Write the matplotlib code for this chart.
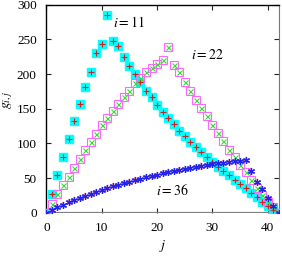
import matplotlib
matplotlib.use("Agg")
import matplotlib.pyplot as plt
import numpy as np

plt.rcParams["mathtext.fontset"] = "stix"
plt.rcParams["font.family"] = ["Liberation Serif", "DejaVu Serif"]

j = np.arange(0, 43)

g11 = [0, 27, 54, 80, 107, 132, 157, 182, 203, 230, 243, 285, 248, 241,
       224, 212, 200, 188, 176, 167, 155, 145, 137, 128, 118, 110, 102, 95,
       87, 80, 73, 66, 60, 54, 47, 41, 35, 28, 22, 15, 9, 4, 0]

g22 = [0, 13, 27, 40, 52, 65, 78, 90, 102, 114, 126, 136, 146, 157, 167,
       176, 187, 194, 203, 209, 214, 220, 239, 213, 203, 188, 176, 163, 151,
       139, 127, 115, 103, 91, 80, 69, 58, 47, 36, 25, 16, 8, 0]

g36 = [0, 4, 8, 11, 15, 18, 21, 24, 27, 30, 33, 35, 38, 40, 43, 45, 47, 49,
       51, 53, 55, 57, 59, 60, 62, 63, 65, 66, 67, 69, 70, 71, 72, 73, 74,
       75, 76, 60, 45, 34, 21, 10, 0]

LABELS = [("$i = 11$", 12.0, 275), ("$i = 22$", 26.1, 227), ("$i = 36$", 19.8, 32)]

fig = plt.figure(figsize=(2.82, 2.56), dpi=100)
ax = fig.add_axes([0.1646, 0.1691, 0.8241, 0.8125])

# i = 11
ax.plot(j, g11, ls="none", marker="s", ms=5.2, mfc="#00ffff", mec="#00ffff", zorder=3)
ax.plot(j, g11, ls="none", marker="+", ms=5, mew=0.8, color="#d02020", zorder=4)
# i = 22
ax.plot(j, g22, ls="none", marker="s", ms=5.2, mfc="none", mec="#ff66ff", mew=0.8, zorder=3)
ax.plot(j, g22, ls="none", marker="x", ms=3.6, mew=0.8, color="#33dd33", zorder=4)
# i = 36
ax.plot(j, g36, ls="none", marker="*", ms=6, mew=0, color="#ff8080", zorder=3)
ax.plot(j, g36, ls="none", marker=(6, 2, 0), ms=5, mew=0.9, color="#2222ee", zorder=4)

for txt, x, y in LABELS:
    ax.text(x, y, txt, fontsize=10, ha="left", va="center")

ax.set_xlim(0, 42)
ax.set_ylim(0, 300)
ax.set_xticks([0, 10, 20, 30, 40])
ax.set_yticks([0, 50, 100, 150, 200, 250, 300])
ax.tick_params(direction="in", length=3.5, width=0.8, labelsize=9.5,
               top=True, right=True, pad=7, color="#222222")
ax.axhline(0, color="#808080", lw=1.6, zorder=2)
ax.spines["bottom"].set_visible(False)
for s in ["top", "left"]:
    ax.spines[s].set_linewidth(1.0)
ax.spines["right"].set_color("#777777")

ax.set_xlabel("$j$", fontsize=10)
ax.xaxis.set_label_coords(0.5, -0.12)
ax.set_ylabel("$g_{i,j}$", fontsize=10)
ax.yaxis.set_label_coords(-0.135, 0.54)

fig.savefig("out.png", dpi=100)
